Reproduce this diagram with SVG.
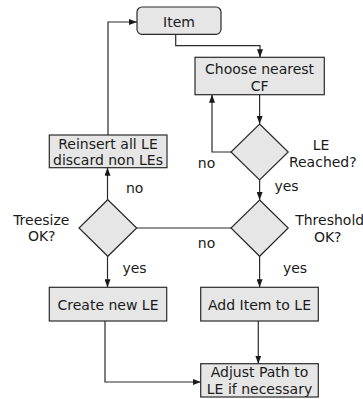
<svg xmlns="http://www.w3.org/2000/svg" width="363" height="399" viewBox="0 0 363 399">
<style>
.box{fill:#e6e6e6;stroke:#2a2a2a;stroke-width:1.2}
.ln{fill:none;stroke:#2a2a2a;stroke-width:1.2}
text{font-family:"DejaVu Sans",sans-serif;font-size:14px;fill:#1a1a1a}
.c{text-anchor:middle}
</style>
<defs>
<marker id="ar" viewBox="0 0 8 6" refX="8" refY="3" markerWidth="8" markerHeight="6" markerUnits="userSpaceOnUse" orient="auto">
<path d="M0,0 L8,3 L0,6 Z" fill="#1a1a1a"/>
</marker>
</defs>
<rect width="363" height="399" fill="#ffffff"/>
<g id="connectors">
<path class="ln" d="M175.7,34.3 V45.7 H260 V57.3" marker-end="url(#ar)"/>
<path class="ln" d="M259.6,94.7 V124" marker-end="url(#ar)"/>
<path class="ln" d="M231,152 H212 V94.7" marker-end="url(#ar)"/>
<path class="ln" d="M259.6,180 V200" marker-end="url(#ar)"/>
<path class="ln" d="M231,228 H136.7"/>
<path class="ln" d="M107.5,199.7 V167.7" marker-end="url(#ar)"/>
<path class="ln" d="M108,135 V22 H137" marker-end="url(#ar)"/>
<path class="ln" d="M107.5,256.3 V287.3" marker-end="url(#ar)"/>
<path class="ln" d="M259.6,256.3 V287.3" marker-end="url(#ar)"/>
<path class="ln" d="M258.3,321 V363.7" marker-end="url(#ar)"/>
<path class="ln" d="M105,321 V382 H200.7" marker-end="url(#ar)"/>
</g>
<g id="item">
<rect class="box" x="137" y="7" width="84" height="27.3" rx="5"/>
<text class="c" x="179" y="26.5">Item</text>
</g>
<g id="choose">
<rect class="box" x="195" y="57.3" width="129.3" height="37.4"/>
<text class="c" x="259.6" y="74">Choose nearest</text>
<text class="c" x="259.6" y="90.7">CF</text>
</g>
<g id="le-reached">
<polygon class="box" points="259.6,124 288.2,152 259.6,180 231,152"/>
<text class="c" x="321" y="150">LE</text>
<text class="c" x="322.8" y="166.7">Reached?</text>
<text class="c" x="206.5" y="168">no</text>
<text class="c" x="286.5" y="191">yes</text>
</g>
<g id="reinsert">
<rect class="box" x="49.3" y="135" width="117.7" height="32.7"/>
<text class="c" x="108" y="149.3">Reinsert all LE</text>
<text class="c" x="108" y="165">discard non LEs</text>
</g>
<g id="threshold">
<polygon class="box" points="259.6,200 288.2,228 259.6,256.3 231,228"/>
<text class="c" x="329.7" y="225">Threshold</text>
<text class="c" x="327.7" y="241.5">OK?</text>
<text class="c" x="295" y="273">yes</text>
<text class="c" x="206.5" y="247.7">no</text>
</g>
<g id="treesize">
<polygon class="box" points="107.8,199.7 136.7,228 107.8,256.3 79,228"/>
<text class="c" x="41.3" y="225">Treesize</text>
<text class="c" x="41.7" y="241">OK?</text>
<text class="c" x="134.7" y="193">no</text>
<text class="c" x="134.5" y="273">yes</text>
</g>
<g id="create">
<rect class="box" x="49.3" y="287.3" width="117.4" height="33.7"/>
<text class="c" x="108" y="310.3">Create new LE</text>
</g>
<g id="add">
<rect class="box" x="200.7" y="287.3" width="117.6" height="33.7"/>
<text class="c" x="259.5" y="310.3">Add Item to LE</text>
</g>
<g id="adjust">
<rect class="box" x="200.7" y="363.7" width="117.6" height="33.3"/>
<text class="c" x="259.5" y="377">Adjust Path to</text>
<text class="c" x="259.5" y="393.7">LE if necessary</text>
</g>
</svg>
